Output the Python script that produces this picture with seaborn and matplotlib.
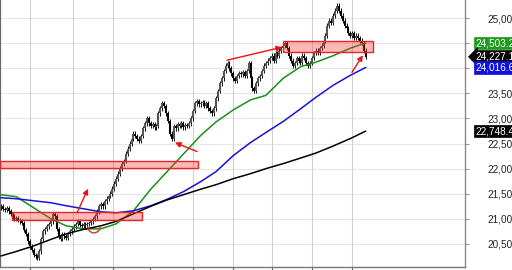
import numpy as np
import pandas as pd
import matplotlib
matplotlib.use("Agg")
import matplotlib.pyplot as plt
import seaborn as sns
from matplotlib.patches import Rectangle, Arc

# ---------------- data ----------------
closes = [
    21250, 21200, 21180, 21220, 21150, 21100, 21050, 21000, 21020, 20980,
    20950, 20920, 20780, 20700, 20550, 20450, 20380, 20280, 20250, 20220,
    20350, 20600, 20750, 20800, 20850, 20900, 20950, 21100, 21050, 20800,
    20650, 20600, 20700, 20650, 20620, 20700, 20750, 20800, 20850, 20900,
    20950, 20880, 20850, 20900, 20870, 20900, 20920, 20950, 21000, 21050,
    21150, 21250, 21300, 21250, 21350, 21400, 21450, 21500, 21600, 21700,
    21800, 21900, 22000, 22100, 22150, 22300, 22400, 22500, 22600, 22700,
    22650, 22600, 22550, 22650, 22800, 22900, 23000, 22900, 22850, 22880,
    22820, 22850, 23100, 23200, 23300, 23250, 23100, 22950, 22700, 22600,
    22850, 22800, 22880, 22850, 22900, 22820, 22870, 22850, 22900, 23000,
    23150, 23300, 23350, 23280, 23300, 23320, 23250, 23300, 23200, 23150,
    23100, 23200, 23400, 23550, 23700, 23800, 23950, 24050, 24100, 24000,
    23900, 23800, 23750, 23850, 23900, 23880, 23920, 23850, 23950, 24100,
    23800, 23600, 23550, 23700, 23800, 23850, 23950, 24050, 24100, 24150,
    24200, 24250, 24150, 24300, 24250, 24350, 24400, 24450, 24500, 24400,
    24250, 24150, 24050, 24100, 24200, 24150, 24100, 24250, 24200, 24100,
    24050, 24100, 24200, 24300, 24350, 24300, 24400, 24450, 24550, 24650,
    24850, 24950, 24900, 25050, 25150, 25250, 25150, 25050, 24950, 24850,
    24800, 24700, 24650, 24700, 24600, 24650, 24600, 24550, 24500, 24350, 24227,
]
first_open = 21230

ma_idx = [0, 8, 17, 26, 34, 43, 52, 60, 69, 78, 86, 95, 104, 112, 121, 130,
          138, 147, 156, 164, 173, 182, 190]
ma_fast = [21480, 21440, 21220, 21000, 20860, 20800, 20800, 20900, 21160, 21590,
           21920, 22290, 22660, 22930, 23170, 23370, 23460, 23800, 24030, 24120,
           24250, 24400, 24503]
ma_mid = [21420, 21400, 21360, 21320, 21260, 21200, 21140, 21120, 21160, 21260,
          21380, 21540, 21740, 21940, 22260, 22520, 22720, 22940, 23190, 23420,
          23660, 23860, 24016]
ma_slow = [20260, 20350, 20460, 20590, 20700, 20790, 20860, 20950, 21100, 21250,
           21370, 21480, 21590, 21680, 21800, 21900, 22000, 22100, 22210, 22310,
           22450, 22600, 22748]

month_pos = [15, 37.5, 58.5, 77.5, 100, 121, 141, 162, 183]
month_labels = ["Oct", "Nov", "Dec", "2024", "Feb", "Mar", "Apr", "May", "Jun"]
grid_months = [15, 37.5, 58.5, 100, 121, 141, 162, 183]
y_ticks = [20500, 21000, 21500, 22000, 22500, 23000, 23500, 24000, 24500, 25000]
y_labels = ["20,500", "21,000", "21,500", "22,000", "22,500", "23,000", "23,500",
            "", "", "25,000"]

last_values = [24503.2, 24227.1, 24016.6, 22748.4]
last_texts = ["24,503.2", "24,227.1", "24,016.6", "22,748.4"]
last_colors = ["#1e9a1e", "#000000", "#1010e0", "#000000"]

zones_x = [(5.7, 73.4), (-0.6, 102.6), (146.9, 193.8)]
zones_y = [(20980, 21130), (22020, 22160), (24320, 24540)]

arrow_from = [(39.6, 21120), (102.1, 22340), (117.7, 24160), (182.8, 23920)]
arrow_to = [(45.3, 21600), (90.6, 22520), (146.4, 24420), (188.5, 24260)]

# ---------------- style ----------------
sns.set_style("white")
plt.rcParams['font.family'] = ['Liberation Sans', 'DejaVu Sans']

fig = plt.figure(figsize=(5.12, 2.70), dpi=100)
ax = fig.add_axes([0, 3 / 270, 465 / 512, 267 / 270])

idx = np.arange(len(closes))
c = np.array(closes, dtype=float)
o = np.concatenate([[first_open], c[:-1]])
wick = 45
hi = np.maximum(o, c) + wick
lo = np.minimum(o, c) - wick

# horizontal / vertical grid
for yv in y_ticks:
    ax.axhline(yv, color="#e6e6e6", lw=0.8, zorder=0)
for xv in grid_months:
    ax.axvline(xv, color="#d0d0d0", lw=0.8, zorder=0)

# price bars
ax.vlines(idx, lo, hi, color="#111111", lw=0.7, zorder=3)
up = c >= o
ax.vlines(idx[~up], o[~up], c[~up], color="#000000", lw=1.5, zorder=3)
ax.vlines(idx[up], o[up], c[up], color="#555555", lw=1.5, zorder=3)

# moving averages through seaborn
ma_df = pd.DataFrame({
    "bar": ma_idx * 3,
    "value": ma_fast + ma_mid + ma_slow,
    "line": ["fast"] * len(ma_idx) + ["mid"] * len(ma_idx) + ["slow"] * len(ma_idx),
})
sns.lineplot(data=ma_df, x="bar", y="value", hue="line",
             palette={"fast": "#1a8f1a", "mid": "#1414d8", "slow": "#000000"},
             legend=False, ax=ax, lw=1.1, zorder=4)

# zones
for (x0, x1), (y0, y1) in zip(zones_x, zones_y):
    ax.add_patch(Rectangle((x0, y0), x1 - x0, y1 - y0, facecolor=(1, 0.2, 0.2, 0.35),
                           edgecolor="#e02828", lw=1.0, zorder=5, clip_on=False))

# arrows
for s, e in zip(arrow_from, arrow_to):
    ax.annotate("", xy=e, xytext=s,
                arrowprops=dict(arrowstyle="-|>", color="#ee1111", lw=1.0,
                                mutation_scale=8, shrinkA=0, shrinkB=0), zorder=6)

ax.add_patch(Arc((48.4, 20850), 6.5, 260, theta1=180, theta2=360,
                 color="#e03020", lw=1.0, zorder=6))

# axes
ax.set_xlim(-0.52, 241.7)
ax.set_ylim(20040, 25360)
ax.yaxis.tick_right()
ax.set_yticks(y_ticks)
ax.set_yticklabels(y_labels)
ax.tick_params(axis="y", right=True, length=3, width=0.8, color="#999999",
               pad=13, labelsize=7.2, labelcolor="#222222")
ax.set_xticks(month_pos)
ax.set_xticklabels(month_labels, ha="left")
ax.tick_params(axis="x", bottom=True, length=3, width=0.8, color="#666666",
               pad=1, labelsize=7, labelcolor="#222222")
ax.set_xlabel("")
ax.set_ylabel("")

ax.spines["top"].set_visible(False)
ax.spines["left"].set_color("#666666")
ax.spines["left"].set_linewidth(1.6)
ax.spines["bottom"].set_color("#777777")
ax.spines["bottom"].set_linewidth(1.0)
ax.spines["right"].set_color("#888888")
ax.spines["right"].set_linewidth(1.0)

# last value labels
tr = ax.get_yaxis_transform()
for v, t, col in zip(last_values, last_texts, last_colors):
    style = "larrow,pad=0.12" if t == "24,227.1" else "square,pad=0.12"
    ax.text(1.0215, v, t, transform=tr, fontsize=7.2, color="white", ha="left",
            va="center", clip_on=False, zorder=10,
            bbox=dict(boxstyle=style, fc=col, ec=col, lw=0.5))

fig.savefig("out.png", dpi=100)
